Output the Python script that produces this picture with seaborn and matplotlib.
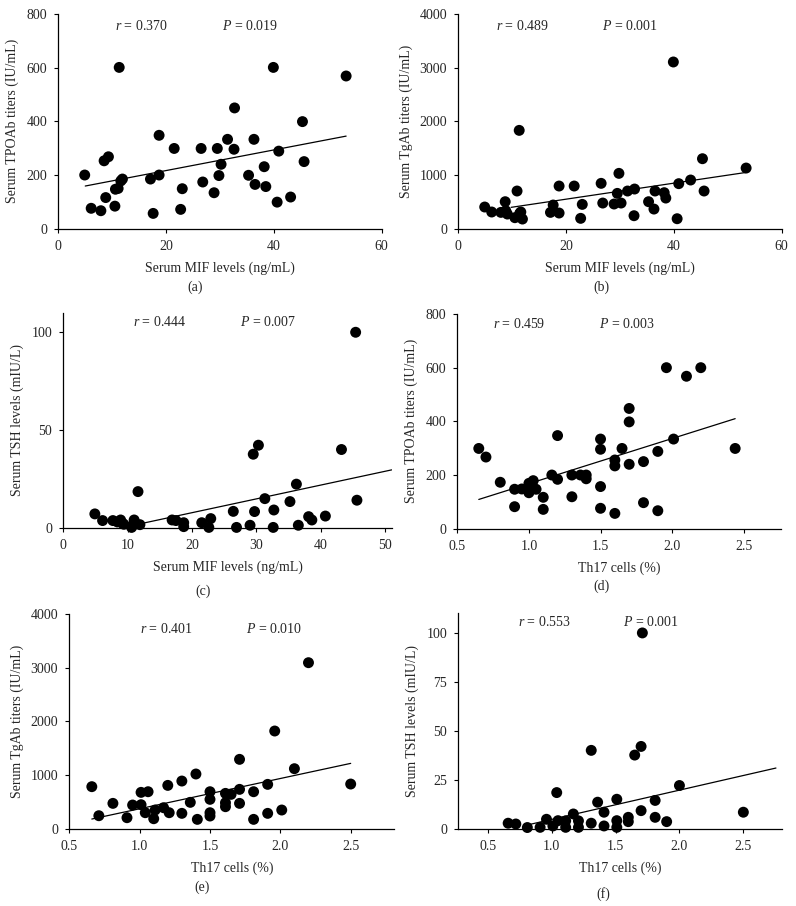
import matplotlib
matplotlib.use("Agg")
import matplotlib.pyplot as plt
import seaborn as sns

# (a) / (b): serum MIF vs TPOAb and TgAb
mif_ab = [4.9, 6.1, 7.9, 8.8, 8.5, 9.3, 10.5, 10.6, 11.1, 11.3, 11.6, 11.9, 17.1, 17.6,
          18.7, 18.7, 21.5, 22.7, 23.0, 26.5, 26.8, 28.9, 29.5, 29.8, 30.2, 31.4, 32.6,
          32.7, 35.3, 36.3, 36.5, 38.2, 38.5, 39.9, 40.6, 40.9, 43.1, 45.3, 45.6, 53.4]
tpoab_a = [200, 76, 67, 116, 253, 268, 84, 147, 150, 601, 178, 185, 185, 57,
           348, 200, 299, 72, 149, 299, 174, 134, 299, 198, 240, 333, 296,
           450, 199, 333, 165, 231, 157, 601, 99, 289, 118, 399, 250, 569]
mif_b = [4.9, 6.2, 7.9, 8.7, 8.8, 9.1, 10.5, 10.9, 11.3, 11.4, 11.6, 11.9, 17.1, 17.6,
         18.7, 18.7, 21.5, 22.7, 23.0, 26.5, 26.8, 28.9, 29.5, 29.8, 30.2, 31.4, 32.6,
         32.7, 35.3, 36.3, 36.5, 38.2, 38.5, 39.9, 40.6, 40.9, 43.1, 45.3, 45.6, 53.4]
tgab_b = [404, 311, 304, 503, 335, 273, 205, 702, 1832, 286, 311, 180, 304, 441,
          795, 292, 795, 193, 453, 845, 478, 460, 658, 1031, 478, 702, 242,
          739, 503, 366, 702, 671, 571, 3106, 186, 839, 907, 1304, 702, 1130]

# (c): serum MIF vs TSH
mif_c = [4.9, 6.1, 7.7, 8.4, 8.9, 9.2, 9.4, 10.6, 10.8, 11.0, 11.1, 11.6, 11.9, 16.9,
         17.5, 18.7, 18.7, 21.5, 22.6, 22.9, 26.4, 26.9, 29.0, 29.5, 29.7, 30.3, 31.3,
         32.6, 32.7, 35.2, 36.2, 36.5, 38.1, 38.6, 40.7, 43.2, 45.4, 45.6]
tsh_c = [7.2, 3.8, 3.8, 3.1, 4.1, 2.4, 1.9, 0.3, 1.4, 4.1, 2.4, 18.6, 1.7, 4.1,
         3.8, 2.7, 0.7, 2.7, 0.3, 4.8, 8.5, 0.3, 1.4, 37.7, 8.4, 42.3, 15.0,
         0.3, 9.2, 13.5, 22.4, 1.4, 5.8, 4.1, 6.1, 40.1, 100, 14.2]

# (d): Th17 vs TPOAb
th17_d = [0.65, 0.70, 0.80, 0.90, 0.90, 0.95, 1.00, 1.00, 1.01, 1.03, 1.05, 1.10, 1.10,
          1.16, 1.20, 1.20, 1.30, 1.30, 1.36, 1.40, 1.40, 1.50, 1.50, 1.50, 1.50, 1.60,
          1.60, 1.60, 1.65, 1.70, 1.70, 1.70, 1.80, 1.80, 1.90, 1.90, 1.96, 2.01, 2.10,
          2.20, 2.44]
tpoab_d = [299, 267, 173, 147, 82, 148, 169, 134, 163, 179, 147, 117, 72,
           200, 184, 347, 200, 119, 200, 200, 186, 334, 296, 157, 76, 256,
           234, 57, 299, 240, 448, 398, 250, 97, 288, 67, 600, 334, 568,
           600, 299]

# (e): Th17 vs TgAb
th17_e = [0.66, 0.71, 0.81, 0.91, 0.95, 1.01, 1.01, 1.04, 1.06, 1.10, 1.11, 1.17, 1.20,
          1.21, 1.30, 1.30, 1.36, 1.40, 1.41, 1.50, 1.50, 1.50, 1.50, 1.61, 1.61, 1.61,
          1.65, 1.71, 1.71, 1.71, 1.81, 1.81, 1.91, 1.91, 1.96, 2.01, 2.10, 2.20, 2.50]
tgab_e = [783, 242, 472, 205, 441, 677, 447, 298, 689, 186, 348, 391, 807,
          298, 888, 286, 491, 1019, 174, 689, 547, 298, 236, 658, 484, 410,
          640, 733, 1292, 472, 689, 174, 826, 286, 1820, 348, 1118, 3093, 832]

# (f): Th17 vs TSH
th17_f = [0.66, 0.72, 0.81, 0.91, 0.96, 1.01, 1.04, 1.05, 1.11, 1.11, 1.17, 1.21, 1.21,
          1.31, 1.31, 1.36, 1.41, 1.41, 1.51, 1.51, 1.51, 1.60, 1.60, 1.65, 1.70, 1.70,
          1.71, 1.81, 1.81, 1.90, 2.00, 2.50]
tsh_f = [3.1, 2.7, 0.9, 1.0, 5.1, 1.7, 18.7, 4.4, 4.3, 1.0, 7.8, 4.3, 1.0,
         40.2, 3.1, 13.8, 8.7, 1.7, 15.3, 4.4, 1.0, 6.1, 3.9, 37.8, 42.2, 9.5,
         100, 14.7, 6.1, 3.9, 22.3, 8.7]

# regression line end points
fit_a = ([5.0, 53.4], [159, 345])
fit_b = ([9.8, 53.5], [398, 1050])
fit_c = ([12.3, 51.0], [2.4, 29.7])
fit_d = ([0.65, 2.44], [109, 410])
fit_e = ([0.66, 2.50], [180, 1217])
fit_f = ([0.81, 2.755], [2.2, 31.2])

stats = [("0.370", "0.019"), ("0.489", "0.001"), ("0.444", "0.007"),
         ("0.459", "0.003"), ("0.401", "0.010"), ("0.553", "0.001")]
letters = ["(a)", "(b)", "(c)", "(d)", "(e)", "(f)"]

mif_label = "Serum MIF levels (ng/mL)"
th17_label = "Th17 cells (%)"

W, H = 796, 906


def px_axes(left, top, right, bottom):
    return [left / W, 1 - bottom / H, (right - left) / W, (bottom - top) / H]


panels = [
    dict(x=mif_ab, y=tpoab_a, fit=fit_a, rect=(58.3, 14, 381.7, 228.7),
         xlim=(0, 60), xticks=[0, 20, 40, 60], ylim=(0, 800), yticks=[0, 200, 400, 600, 800],
         xlabel=mif_label, ylabel="Serum TPOAb titers (IU/mL)",
         txt=(0.175, 0.505, 0.944), letter_pos=(195, 287), fmt="{:.0f}"),
    dict(x=mif_b, y=tgab_b, fit=fit_b, rect=(458.3, 14, 781.7, 228.7),
         xlim=(0, 60), xticks=[0, 20, 40, 60], ylim=(0, 4000), yticks=[0, 1000, 2000, 3000, 4000],
         xlabel=mif_label, ylabel="Serum TgAb titers (IU/mL)",
         txt=(0.116, 0.443, 0.944), letter_pos=(601.7, 287), fmt="{:.0f}"),
    dict(x=mif_c, y=tsh_c, fit=fit_c, rect=(63.3, 312.7, 391.7, 528),
         xlim=(0, 51), xticks=[0, 10, 20, 30, 40, 50], ylim=(0, 110), yticks=[0, 50, 100],
         xlabel=mif_label, ylabel="Serum TSH levels (mIU/L)",
         txt=(0.213, 0.538, 0.955), letter_pos=(203, 591.7), fmt="{:.0f}"),
    dict(x=th17_d, y=tpoab_d, fit=fit_d, rect=(457.3, 314, 781, 528.7),
         xlim=(0.5, 2.76), xticks=[0.5, 1.0, 1.5, 2.0, 2.5], ylim=(0, 800), yticks=[0, 200, 400, 600, 800],
         xlabel=th17_label, ylabel="Serum TPOAb titers (IU/mL)",
         txt=(0.111, 0.438, 0.952), letter_pos=(601.7, 586.7), fmt="{:.1f}"),
    dict(x=th17_e, y=tgab_e, fit=fit_e, rect=(69.3, 614, 394.3, 828.7),
         xlim=(0.5, 2.81), xticks=[0.5, 1.0, 1.5, 2.0, 2.5], ylim=(0, 4000), yticks=[0, 1000, 2000, 3000, 4000],
         xlabel=th17_label, ylabel="Serum TgAb titers (IU/mL)",
         txt=(0.2175, 0.544, 0.929), letter_pos=(201.7, 887.3), fmt="{:.1f}"),
    dict(x=th17_f, y=tsh_f, fit=fit_f, rect=(458.3, 613.3, 781.7, 829.3),
         xlim=(0.27, 2.8), xticks=[0.5, 1.0, 1.5, 2.0, 2.5], ylim=(0, 110), yticks=[0, 25, 50, 75, 100],
         xlabel=th17_label, ylabel="Serum TSH levels (mIU/L)",
         txt=(0.186, 0.508, 0.961), letter_pos=(603, 894), fmt="{:.1f}"),
]


def main():
    sns.set_style("ticks")
    plt.rcParams["font.family"] = ["Liberation Serif", "DejaVu Serif"]
    plt.rcParams["mathtext.fontset"] = "custom"
    plt.rcParams["mathtext.rm"] = "Liberation Serif"
    plt.rcParams["mathtext.it"] = "Liberation Serif:italic"

    fig = plt.figure(figsize=(W / 100, H / 100), dpi=100)

    for p, (r_val, p_val), letter in zip(panels, stats, letters):
        ax = fig.add_axes(px_axes(*p["rect"]))
        sns.lineplot(x=p["fit"][0], y=p["fit"][1], ax=ax, color="black", lw=0.9)
        sns.scatterplot(x=p["x"], y=p["y"], ax=ax, color="black", s=62,
                        edgecolor="none", clip_on=False, zorder=5)

        ax.set_xlim(*p["xlim"])
        ax.set_ylim(*p["ylim"])
        ax.set_xticks(p["xticks"])
        ax.set_xticklabels([p["fmt"].format(v) for v in p["xticks"]])
        ax.set_yticks(p["yticks"])
        ax.set_xlabel(p["xlabel"], fontsize=10, labelpad=6)
        ax.set_ylabel(p["ylabel"], fontsize=10, labelpad=5)
        ax.tick_params(labelsize=10, length=3, width=0.8, pad=5, color="black")
        sns.despine(ax=ax)
        for side in ("left", "bottom"):
            ax.spines[side].set_linewidth(0.9)
            ax.spines[side].set_color("black")

        rx, px_, ty = p["txt"]
        ax.text(rx, ty, "$r$ = " + r_val, transform=ax.transAxes,
                ha="left", va="center", fontsize=10)
        ax.text(px_, ty, "$P$ = " + p_val, transform=ax.transAxes,
                ha="left", va="center", fontsize=10)

        lx, ly = p["letter_pos"]
        fig.text(lx / W, 1 - ly / H, letter, ha="center", va="center", fontsize=10)

    fig.savefig("out.png", dpi=100, facecolor="white")


if __name__ == "__main__":
    main()
